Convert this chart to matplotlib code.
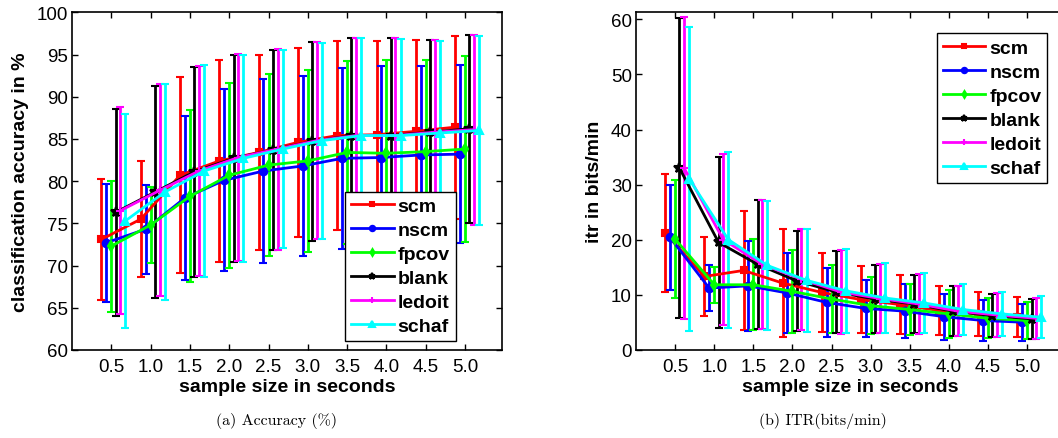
import numpy as np
import matplotlib
matplotlib.use("Agg")
from matplotlib import pyplot as plt

# sample sizes in seconds
sizes = np.array([0.5, 1.0, 1.5, 2.0, 2.5, 3.0, 3.5, 4.0, 4.5, 5.0])
tick_labels = ['0.5', '1.0', '1.5', '2.0', '2.5', '3.0', '3.5', '4.0', '4.5', '5.0']
names = ['scm', 'nscm', 'fpcov', 'blank', 'ledoit', 'schaf']

# accuracy (%) mean and std
acc_scm = [73.1, 75.5, 80.7, 82.4, 83.4, 84.6, 85.4, 85.5, 85.9, 86.4]
acc_nscm = [72.7, 74.3, 78.0, 80.1, 81.2, 81.8, 82.7, 82.8, 83.1, 83.2]
acc_fpcov = [72.3, 74.8, 78.2, 80.7, 81.9, 82.4, 83.4, 83.3, 83.5, 83.8]
acc_blank = [76.3, 78.7, 81.1, 82.7, 83.7, 84.7, 85.4, 85.4, 85.8, 86.2]
acc_ledoit = [76.5, 78.9, 81.2, 82.8, 83.8, 84.8, 85.4, 85.4, 85.8, 86.1]
acc_schaf = [75.3, 78.7, 81.2, 82.7, 83.8, 84.8, 85.4, 85.4, 85.7, 86.0]

acc_scm_sd = [7.15, 6.9, 11.6, 11.95, 11.55, 11.2, 11.15, 11.1, 10.8, 10.85]
acc_nscm_sd = [7.0, 5.25, 9.75, 10.8, 10.85, 10.65, 10.7, 10.85, 10.55, 10.55]
acc_fpcov_sd = [7.75, 4.45, 10.2, 10.95, 10.8, 10.75, 10.8, 11.0, 10.8, 11.0]
acc_blank_sd = [12.25, 12.55, 12.45, 12.25, 11.85, 11.8, 11.5, 11.55, 10.9, 11.1]
acc_ledoit_sd = [12.25, 12.55, 12.45, 12.3, 11.9, 11.65, 11.5, 11.55, 10.9, 11.25]
acc_schaf_sd = [12.65, 12.8, 12.5, 12.25, 11.75, 11.6, 11.5, 11.4, 10.9, 11.2]

# ITR (bits/min) mean and std
itr_scm = [21.2, 13.3, 14.4, 12.1, 10.4, 9.1, 8.2, 7.1, 6.5, 5.9]
itr_nscm = [20.4, 11.2, 11.6, 10.3, 8.6, 7.5, 7.0, 6.0, 5.3, 5.0]
itr_fpcov = [20.1, 11.8, 11.8, 10.6, 9.2, 8.0, 7.3, 6.5, 5.7, 5.3]
itr_blank = [33.0, 19.5, 15.5, 12.5, 10.5, 9.2, 8.3, 7.0, 6.2, 5.6]
itr_ledoit = [33.0, 20.0, 15.5, 12.8, 10.5, 9.3, 8.3, 7.0, 6.3, 5.7]
itr_schaf = [31.0, 20.0, 15.3, 12.6, 10.7, 9.4, 8.5, 7.3, 6.5, 5.9]

itr_scm_sd = [10.65, 7.1, 10.85, 9.8, 7.25, 6.05, 5.3, 4.5, 3.95, 3.6]
itr_nscm_sd = [9.6, 4.2, 8.2, 7.35, 6.25, 5.25, 4.9, 4.2, 3.65, 3.35]
itr_fpcov_sd = [10.75, 3.25, 8.3, 7.6, 6.15, 5.2, 4.6, 4.3, 3.65, 3.35]
itr_blank_sd = [27.3, 15.5, 11.65, 9.15, 7.5, 6.25, 5.35, 4.6, 3.95, 3.6]
itr_ledoit_sd = [27.5, 15.5, 11.7, 9.2, 7.6, 6.3, 5.4, 4.6, 4.0, 3.7]
itr_schaf_sd = [27.6, 16.0, 11.7, 9.3, 7.6, 6.3, 5.4, 4.6, 4.0, 3.8]

acc = [acc_scm, acc_nscm, acc_fpcov, acc_blank, acc_ledoit, acc_schaf]
acc_sd = [acc_scm_sd, acc_nscm_sd, acc_fpcov_sd, acc_blank_sd, acc_ledoit_sd, acc_schaf_sd]
itr = [itr_scm, itr_nscm, itr_fpcov, itr_blank, itr_ledoit, itr_schaf]
itr_sd = [itr_scm_sd, itr_nscm_sd, itr_fpcov_sd, itr_blank_sd, itr_ledoit_sd, itr_schaf_sd]

colors = ['#ff0000', '#0000ff', '#00ff00', '#000000', '#ff00ff', '#00ffff']
markers = ['s', 'o', 'd', '*', '+', '^']
msizes = [5, 5.5, 5, 7, 6, 6]
shifts = [-0.125, -0.065, 0.0, 0.055, 0.115, 0.18]

plt.rcParams['font.family'] = ['Liberation Sans', 'DejaVu Sans']

fig = plt.figure(figsize=(10.58, 4.39), dpi=100)
ax1 = fig.add_axes([72/1058, 1-351/439, 430/1058, 337.7/439])
ax2 = fig.add_axes([636/1058, 1-350.7/439, 428/1058, 337.4/439])


def draw(ax, means, sds, ylim, yticks, ylabel, leg_anchor):
	handles = []
	for i in range(6):
		c = ax.errorbar(sizes + shifts[i], means[i], yerr=sds[i], color=colors[i],
			marker=markers[i], ms=msizes[i], mew=1.5, lw=2, elinewidth=2,
			capsize=3, capthick=2)
		handles.append(c[0])
	ax.set_xlim(0, 5.47)
	ax.set_ylim(*ylim)
	ax.set_xticks(sizes)
	ax.set_xticklabels(tick_labels)
	ax.set_yticks(yticks)
	ax.tick_params(direction='in', length=4, width=1, labelsize=13.5, top=True, right=True, pad=3)
	ax.tick_params(axis='x', pad=6)
	for s in ax.spines.values():
		s.set_linewidth(1.2)
	ax.set_xlabel('sample size in seconds', fontsize=14, fontweight='bold', labelpad=2)
	ax.set_ylabel(ylabel, fontsize=14, fontweight='bold')
	leg = ax.legend(handles, names, loc='upper left', bbox_to_anchor=leg_anchor,
		fancybox=False, edgecolor='black', framealpha=1, borderpad=0.3,
		handlelength=2.2, handletextpad=0.2, labelspacing=0.33, markerscale=0.7,
		prop={'weight': 'bold', 'size': 14}, borderaxespad=0)
	leg.get_frame().set_linewidth(1.0)


draw(ax1, acc, acc_sd, (60, 100), np.arange(60, 101, 5), 'classification accuracy in %', (0.635, 0.469))
draw(ax2, itr, itr_sd, (0, 61.3), np.arange(0, 61, 10), 'itr in bits/min', (0.7026, 0.938))
ax1.yaxis.set_label_coords(-0.1, 0.5)
ax2.yaxis.set_label_coords(-0.077, 0.5)

fig.text(276/1058, 1-421/439, '(a) Accuracy (%)', ha='center', va='center', fontsize=11.5, family='cmr10')
fig.text(823/1058, 1-421/439, '(b) ITR(bits/min)', ha='center', va='center', fontsize=11.5, family='cmr10')

fig.savefig('out.png', dpi=100)
